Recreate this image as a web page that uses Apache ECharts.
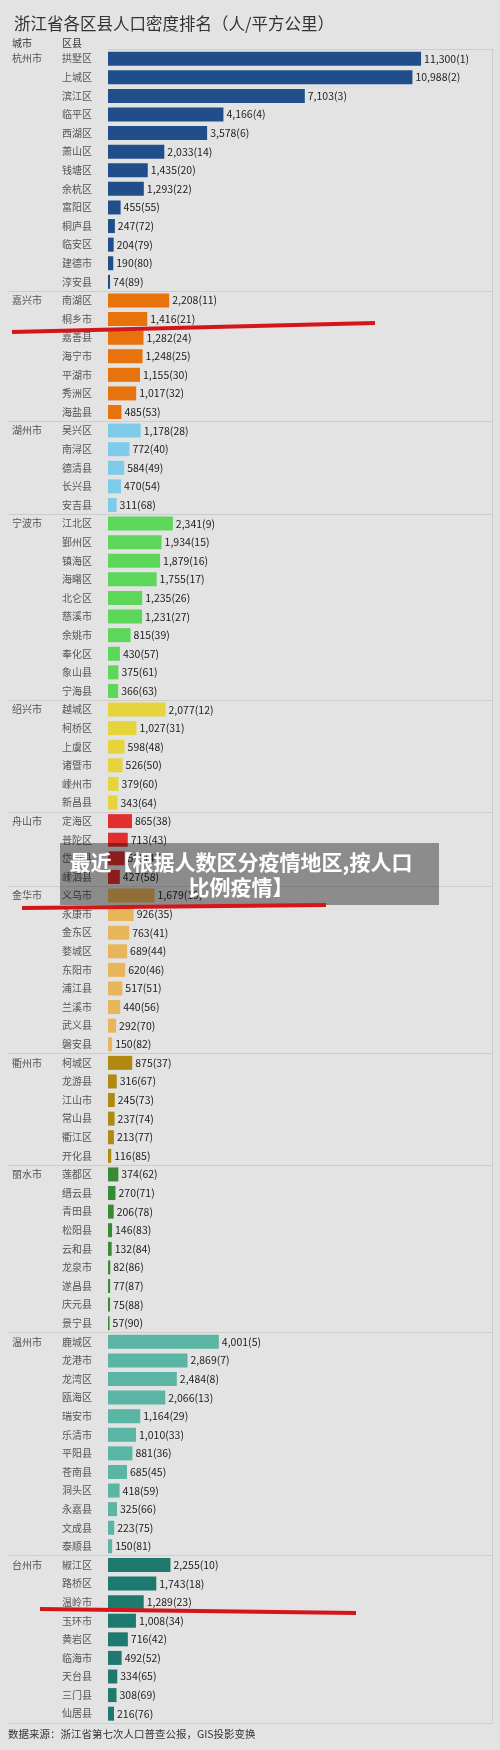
<!DOCTYPE html>
<html>
<head>
<meta charset="utf-8">
<script src="https://cdn.jsdelivr.net/npm/echarts@6/dist/echarts.min.js"></script>
<style>
html,body{margin:0;padding:0;background:#e3e3e3;}
#chart{width:500px;height:1750px;}
</style>
</head>
<body>
<div id="chart"></div>
<script>
const cityNames = ['杭州市','嘉兴市','湖州市','宁波市','绍兴市','舟山市','金华市','衢州市','丽水市','温州市','台州市'];
const groupSizes = [13,7,5,10,6,4,9,6,9,12,9];
const cityColors = ['#1f4e8a','#e8720c','#7fcbea','#5cd75a','#e6d43c','#e12f2f','#e9b55a','#b08a10','#3a8a35','#5bb5a5','#1e7a6e'];
const districtNames = [
 '拱墅区','上城区','滨江区','临平区','西湖区','萧山区','钱塘区','余杭区','富阳区','桐庐县','临安区','建德市','淳安县',
 '南湖区','桐乡市','嘉善县','海宁市','平湖市','秀洲区','海盐县',
 '吴兴区','南浔区','德清县','长兴县','安吉县',
 '江北区','鄞州区','镇海区','海曙区','北仑区','慈溪市','余姚市','奉化区','象山县','宁海县',
 '越城区','柯桥区','上虞区','诸暨市','嵊州市','新昌县',
 '定海区','普陀区','岱山县','嵊泗县',
 '义乌市','永康市','金东区','婺城区','东阳市','浦江县','兰溪市','武义县','磐安县',
 '柯城区','龙游县','江山市','常山县','衢江区','开化县',
 '莲都区','缙云县','青田县','松阳县','云和县','龙泉市','遂昌县','庆元县','景宁县',
 '鹿城区','龙港市','龙湾区','瓯海区','瑞安市','乐清市','平阳县','苍南县','洞头区','永嘉县','文成县','泰顺县',
 '椒江区','路桥区','温岭市','玉环市','黄岩区','临海市','天台县','三门县','仙居县'
];
const densityValues = [
 11300,10988,7103,4166,3578,2033,1435,1293,455,247,204,190,74,
 2208,1416,1282,1248,1155,1017,485,
 1178,772,584,470,311,
 2341,1934,1879,1755,1235,1231,815,430,375,366,
 2077,1027,598,526,379,343,
 865,713,599,427,
 1679,926,763,689,620,517,440,292,150,
 875,316,245,237,213,116,
 374,270,206,146,132,82,77,75,57,
 4001,2869,2484,2066,1164,1010,881,685,418,325,223,150,
 2255,1743,1289,1008,716,492,334,308,216
];
const rankValues = [
 1,2,3,4,6,14,20,22,55,72,79,80,89,
 11,21,24,25,30,32,53,
 28,40,49,54,68,
 9,15,16,17,26,27,39,57,61,63,
 12,31,48,50,60,64,
 38,43,47,58,
 19,35,41,44,46,51,56,70,82,
 37,67,73,74,77,85,
 62,71,78,83,84,86,87,88,90,
 5,7,8,13,29,33,36,45,59,66,75,81,
 10,18,23,34,42,52,65,69,76
];
const titleText = '浙江省各区县人口密度排名（人/平方公里）';
const headerCity = '城市';
const headerDistrict = '区县';
const sourceText = '数据来源：浙江省第七次人口普查公报，GIS投影变换';
const overlayLines = ['最近【根据人数区分疫情地区,按人口','比例疫情】'];

// group bookkeeping
const groupOf = [];
const groupStartCity = {};
let idx = 0;
groupSizes.forEach((n, g) => {
  groupStartCity[idx] = cityNames[g];
  for (let k = 0; k < n; k++) groupOf.push(g);
  idx += n;
});
const isSep = (i) => i > 0 && groupStartCity[i] !== undefined;

const FONT = '"Noto Sans CJK SC","Noto Sans",sans-serif';
const sepColor = '#cdcdcd';

const chart = echarts.init(document.getElementById('chart'), null, {renderer: 'canvas'});
chart.setOption({
  backgroundColor: '#e3e3e3',
  animation: false,
  textStyle: {fontFamily: FONT},
  title: {
    text: titleText, left: 9, top: 10,
    textStyle: {fontSize: 16.5, fontWeight: 'normal', color: '#333', fontFamily: FONT}
  },
  grid: {left: 108, right: 8, top: 49.4, bottom: 27, containLabel: false},
  xAxis: {
    type: 'value', min: 0, max: 13860, position: 'top',
    axisLine: {show: true, lineStyle: {color: sepColor, width: 1}},
    axisTick: {show: false}, axisLabel: {show: false}, splitLine: {show: false}
  },
  yAxis: [
    {
      type: 'category', data: districtNames, inverse: true, position: 'left',
      axisLine: {show: false},
      axisTick: {show: true, length: 100, interval: (i) => isSep(i), lineStyle: {color: sepColor}},
      splitLine: {show: true, interval: (i) => isSep(i), lineStyle: {color: sepColor}},
      axisLabel: {interval: 0, align: 'left', margin: 46, fontSize: 10, color: '#555', fontFamily: FONT}
    },
    {
      type: 'category', data: districtNames, inverse: true, position: 'left', offset: 0,
      axisLine: {show: false}, axisTick: {show: false}, splitLine: {show: false},
      axisLabel: {interval: 0, align: 'left', margin: 96, fontSize: 10, color: '#555', fontFamily: FONT,
        formatter: (v, i) => groupStartCity[i] || ''}
    },
    {
      type: 'category', data: districtNames, inverse: true, position: 'right',
      axisLine: {show: true, lineStyle: {color: sepColor}},
      axisTick: {show: false}, axisLabel: {show: false}, splitLine: {show: false}
    }
  ],
  series: [{
    type: 'bar', yAxisIndex: 0, barWidth: 14,
    data: densityValues.map((v, i) => ({value: v, itemStyle: {color: cityColors[groupOf[i]]}})),
    label: {
      show: true, position: 'right', distance: 3, fontSize: 10.5, color: '#222', fontFamily: FONT,
      formatter: (p) => p.value.toLocaleString('en-US') + '(' + rankValues[p.dataIndex] + ')'
    }
  }],
  graphic: [
    {type: 'text', left: 12, top: 38, style: {text: headerCity, fontSize: 10, fill: '#333', fontFamily: FONT}},
    {type: 'text', left: 62, top: 38, style: {text: headerDistrict, fontSize: 10, fill: '#333', fontFamily: FONT}},
    {type: 'text', left: 8, top: 1729, style: {text: sourceText, fontSize: 10.5, fill: '#333', fontFamily: FONT}},
    {type: 'rect', shape: {x: 60, y: 843, width: 379, height: 62}, style: {fill: 'rgba(0,0,0,0.38)'}, z: 100},
    {type: 'text', x: 241, y: 862, z: 101, style: {text: overlayLines[0], fontSize: 21, fontWeight: 'bold', fill: '#fff', align: 'center', verticalAlign: 'middle', fontFamily: FONT}},
    {type: 'text', x: 241, y: 887, z: 101, style: {text: overlayLines[1], fontSize: 21, fontWeight: 'bold', fill: '#fff', align: 'center', verticalAlign: 'middle', fontFamily: FONT}},
    {type: 'line', shape: {x1: 12, y1: 332, x2: 375, y2: 323}, style: {stroke: '#d3161a', lineWidth: 4}, z: 102},
    {type: 'line', shape: {x1: 22, y1: 908, x2: 326, y2: 905}, style: {stroke: '#d3161a', lineWidth: 4}, z: 102},
    {type: 'line', shape: {x1: 40, y1: 1609, x2: 356, y2: 1613}, style: {stroke: '#d3161a', lineWidth: 4}, z: 102}
  ]
});
</script>
</body>
</html>
